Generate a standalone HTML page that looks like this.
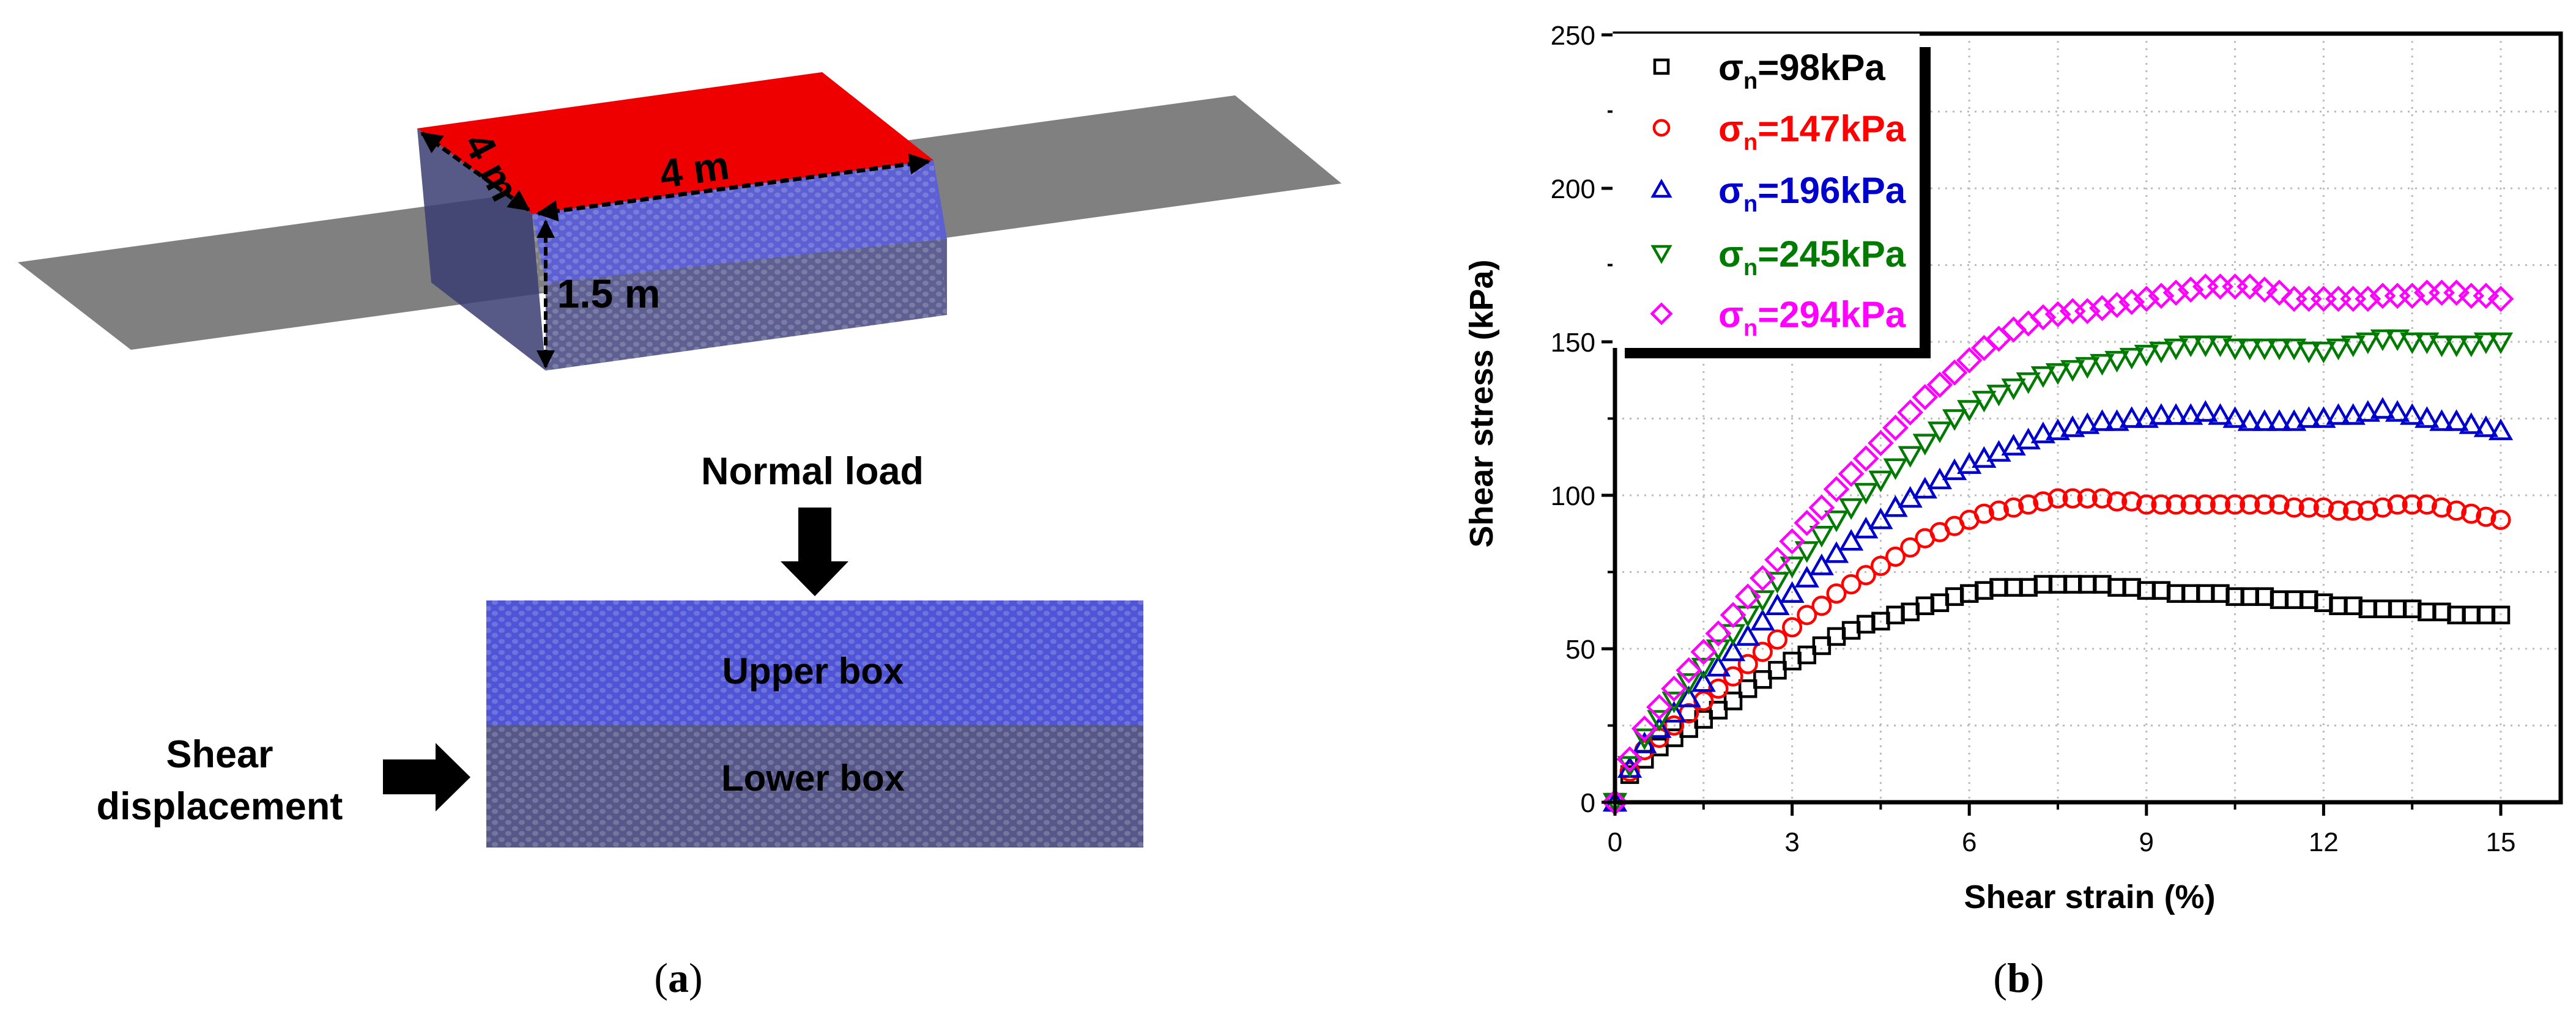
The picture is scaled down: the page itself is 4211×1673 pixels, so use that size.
<!DOCTYPE html>
<html><head><meta charset="utf-8"><style>
html,body{margin:0;padding:0;background:#fff;}
svg{display:block;}
text{font-family:"Liberation Sans",Arial,sans-serif;}
</style></head><body>
<svg id="fig" width="4211" height="1673" viewBox="0 0 4211 1673" xmlns="http://www.w3.org/2000/svg">
<defs>
<pattern id="grain" width="22" height="18" patternUnits="userSpaceOnUse">
<ellipse cx="6" cy="5" rx="5" ry="4" fill="#ffffff" fill-opacity="0.18"/>
<ellipse cx="17" cy="13" rx="5" ry="4" fill="#ffffff" fill-opacity="0.18"/>
</pattern>
<marker id="ah" viewBox="0 0 10 10" refX="9" refY="5" markerWidth="5" markerHeight="5" orient="auto-start-reverse"><path d="M0,0 L10,5 L0,10 z" fill="#000"/></marker>
</defs>

<g>
<g>
<polygon points="29,429 2019,156 2193,300 214,572" fill="#808080"/>
<polygon points="682,210 870,350 892,606 705,462" fill="#3a3d72" fill-opacity="0.85"/>
<polygon points="870,350 1526,262 1548,390 892,463" fill="#5c60d2"/>
<polygon points="892,463 1548,390 1548,515 892,606" fill="#5e6092"/>
<polygon points="870,350 1526,262 1548,515 892,606" fill="url(#grain)"/>
<polygon points="682,210 1344,118 1526,262 870,350" fill="#ee0000"/>
<line x1="690" y1="218" x2="864" y2="343" stroke="#000" stroke-width="7" stroke-dasharray="14,7" marker-start="url(#ah)" marker-end="url(#ah)"/>
<line x1="880" y1="349" x2="1518" y2="264" stroke="#000" stroke-width="7" stroke-dasharray="14,7" marker-start="url(#ah)" marker-end="url(#ah)"/>
<line x1="892" y1="362" x2="892" y2="600" stroke="#000" stroke-width="6" stroke-dasharray="14,7" marker-start="url(#ah)" marker-end="url(#ah)"/>
<text x="803" y="295" font-size="66" font-weight="bold" text-anchor="middle" transform="rotate(62 803 273)">4 m</text>
<text x="1135" y="300" font-size="66" font-weight="bold" text-anchor="middle" transform="rotate(-8 1135 277)">4 m</text>
<text x="995" y="503" font-size="66" font-weight="bold" text-anchor="middle">1.5 m</text>
</g>
<g>
<text x="1328" y="792" font-size="63" font-weight="bold" text-anchor="middle">Normal load</text>
<polygon points="1305,830 1359,830 1359,918 1387,918 1332,975 1276,918 1305,918" fill="#000"/>
<rect x="795" y="982" width="1074" height="203" fill="#4f55d6"/>
<rect x="795" y="982" width="1074" height="203" fill="url(#grain)"/>
<rect x="795" y="1185" width="1074" height="201" fill="#565889"/>
<rect x="795" y="1185" width="1074" height="201" fill="url(#grain)"/>
<text x="1329" y="1118" font-size="60" font-weight="bold" text-anchor="middle">Upper box</text>
<text x="1329" y="1293" font-size="60" font-weight="bold" text-anchor="middle">Lower box</text>
<text x="359" y="1255" font-size="63" font-weight="bold" text-anchor="middle">Shear</text>
<text x="359" y="1340" font-size="63" font-weight="bold" text-anchor="middle">displacement</text>
<polygon points="626,1242 712,1242 712,1215 769,1271 712,1327 712,1299 626,1299" fill="#000"/>
</g>
<text x="1109" y="1622" font-size="68" text-anchor="middle" style="font-family:'Liberation Serif',serif">(<tspan font-weight="bold">a</tspan>)</text>
</g>

<g id="chart"></g>
<text x="3300" y="1622" font-size="68" text-anchor="middle" style="font-family:'Liberation Serif',serif">(<tspan font-weight="bold">b</tspan>)</text>
</svg>
<script>
const strain = [0,0.25,0.5,0.75,1,1.25,1.5,1.75,2,2.25,2.5,2.75,3,3.25,3.5,3.75,4,4.25,4.5,4.75,5,5.25,5.5,5.75,6,6.25,6.5,6.75,7,7.25,7.5,7.75,8,8.25,8.5,8.75,9,9.25,9.5,9.75,10,10.25,10.5,10.75,11,11.25,11.5,11.75,12,12.25,12.5,12.75,13,13.25,13.5,13.75,14,14.25,14.5,14.75,15];
const s98  = [0,9,14,18,21,24,27,30,33,37,40,43,46,48,51,54,56,58,59,61,62,64,65,67,68,69,70,70,70,71,71,71,71,71,70,70,69,69,68,68,68,68,67,67,67,66,66,66,65,64,64,63,63,63,63,62,62,61,61,61,61];
const s147 = [0,10,17,21,25,29,33,37,41,45,49,53,57,61,64,68,71,74,77,80,83,86,88,90,92,94,95,96,97,98,99,99,99,99,98,98,97,97,97,97,97,97,97,97,97,97,96,96,96,95,95,95,96,97,97,97,96,95,94,93,92];
const s196 = [0,11,19,24,29,34,39,44,49,54,59,64,68,73,77,81,85,89,92,96,99,102,105,108,110,112,114,116,118,120,121,122,123,124,124,125,125,126,126,126,127,126,125,124,124,124,124,125,125,126,126,127,128,127,126,125,124,124,123,122,121];
const s245 = [0,12,21,27,33,39,44,50,55,61,66,72,77,82,87,92,96,101,105,109,113,117,121,125,128,131,133,135,137,139,140,141,142,143,144,145,146,147,148,149,149,149,148,148,148,148,148,147,147,148,149,150,151,151,150,150,149,149,149,150,150];
const s294 = [0,14,24,31,37,43,49,55,61,67,73,79,85,91,96,102,107,112,117,122,127,132,136,140,144,148,151,154,156,158,159,160,160,161,162,163,164,165,166,167,168,168,168,168,167,166,164,164,164,164,164,164,165,165,165,166,166,166,165,165,164];
const seriesNames = ["98kPa","147kPa","196kPa","245kPa","294kPa"];
const xTicks = [0,3,6,9,12,15];
const yTicks = [0,50,100,150,200,250];

const NS="http://www.w3.org/2000/svg";
const g=document.getElementById('chart');
const X0=2640,X1=4088,Y0=1312,Y1=57,FR=4186,FT=55;
const sx=v=>X0+(v-0)/(15-0)*(X1-X0);
const sy=v=>Y0-(v-0)/(250-0)*(Y0-Y1);
function mk(tag,attrs,parent){const e=document.createElementNS(NS,tag);for(const k in attrs)e.setAttribute(k,attrs[k]);(parent||g).appendChild(e);return e;}

for(let v=1.5;v<15.01;v+=1.5){const l=mk('line',{x1:sx(v),x2:sx(v),y1:FT,y2:Y0,stroke:'#bbb','stroke-width':3,'stroke-dasharray':'3,9'});

}
for(let v=25;v<250;v+=25){const l=mk('line',{x1:X0,x2:FR,y1:sy(v),y2:sy(v),stroke:'#bbb','stroke-width':3,'stroke-dasharray':'3,9'});

}

const series=[
 {vals:s98,color:'#000000',shape:'square'},
 {vals:s147,color:'#ff0000',shape:'circle'},
 {vals:s196,color:'#0000cc',shape:'tri-up'},
 {vals:s245,color:'#007a00',shape:'tri-down'},
 {vals:s294,color:'#ff00ff',shape:'diamond'}];
function marker(shape,cx,cy,color,r,parent){
 let e;
 if(shape==='square')e=mk('rect',{x:cx-r,y:cy-r,width:2*r,height:2*r},parent);
 else if(shape==='circle')e=mk('circle',{cx:cx,cy:cy,r:r*1.1},parent);
 else if(shape==='tri-up')e=mk('polygon',{points:`${cx},${cy-r*1.2} ${cx+r*1.25},${cy+r} ${cx-r*1.25},${cy+r}`},parent);
 else if(shape==='tri-down')e=mk('polygon',{points:`${cx},${cy+r*1.2} ${cx+r*1.25},${cy-r} ${cx-r*1.25},${cy-r}`},parent);
 else e=mk('polygon',{points:`${cx},${cy-r*1.4} ${cx+r*1.4},${cy} ${cx},${cy+r*1.4} ${cx-r*1.4},${cy}`},parent);
 e.setAttribute('fill','none');e.setAttribute('stroke',color);e.setAttribute('stroke-width',4.5);
 return e;
}
series.forEach((s,si)=>{
 const sg=mk('g',{});
 
 
 s.vals.forEach((v,i)=>{
  const m=marker(s.shape,sx(strain[i]),sy(v),s.color,13,sg);
  
  
 });
});

const fr=mk('rect',{x:X0,y:FT,width:FR-X0,height:Y0-FT,fill:'none',stroke:'#000','stroke-width':7});



xTicks.forEach(v=>{
 mk('line',{x1:sx(v),x2:sx(v),y1:Y0,y2:Y0+22,stroke:'#000','stroke-width':5});
 const t=mk('text',{x:sx(v),y:Y0+80,'font-size':44,'text-anchor':'middle'});t.textContent=v;
 
 
});
for(let v=1.5;v<15;v+=3)mk('line',{x1:sx(v),x2:sx(v),y1:Y0,y2:Y0+12,stroke:'#000','stroke-width':4});
yTicks.forEach(v=>{
 mk('line',{x1:X0-22,x2:X0,y1:sy(v),y2:sy(v),stroke:'#000','stroke-width':5});
 const t=mk('text',{x:X0-32,y:sy(v)+16,'font-size':44,'text-anchor':'end'});t.textContent=v;
 
 
});
for(let v=25;v<250;v+=50)mk('line',{x1:X0-12,x2:X0,y1:sy(v),y2:sy(v),stroke:'#000','stroke-width':4});

const xt=mk('text',{x:3416,y:1485,'font-size':54,'font-weight':'bold','text-anchor':'middle'});xt.textContent='Shear strain (%)';


const yt=mk('text',{x:0,y:0,'font-size':54,'font-weight':'bold','text-anchor':'middle',transform:'translate(2440,660) rotate(-90)'});yt.textContent='Shear stress (kPa)';



const lg=mk('g',{});


mk('rect',{x:2656,y:77,width:500,height:509,fill:'#000'},lg);
mk('rect',{x:2636,y:55,width:502,height:514,fill:'#fff'},lg);
const rowsY=[109,209,310,414,513];
series.forEach((s,i)=>{
 const eg=mk('g',{},lg);
 
 
 marker(s.shape,2716,rowsY[i],s.color,11,eg);
 const t=mk('text',{x:2809,y:rowsY[i]+22,'font-size':60,'font-weight':'bold',fill:s.color},eg);
 t.innerHTML='σ<tspan font-size="38" dy="14">n</tspan><tspan dy="-14">='+seriesNames[i]+'</tspan>';
});
</script>
</body></html>
